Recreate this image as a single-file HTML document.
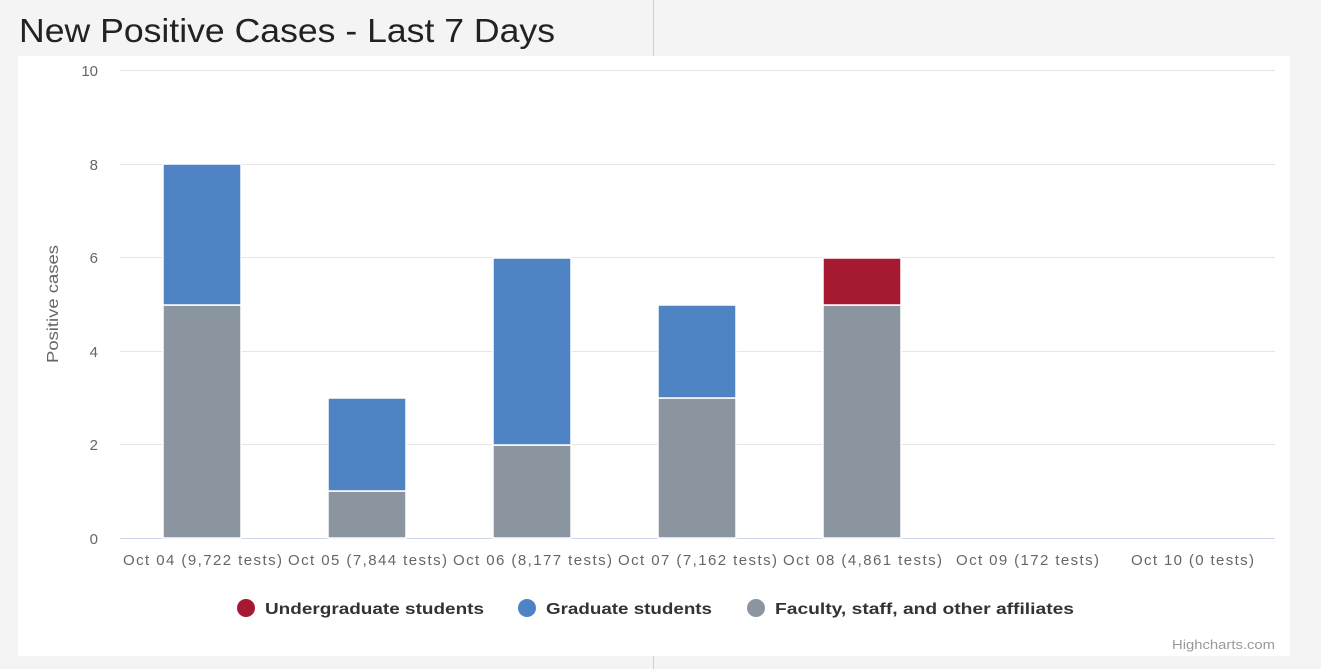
<!DOCTYPE html>
<html><head><meta charset="utf-8"><style>
html,body{margin:0;padding:0;background:#f4f4f4;width:1321px;height:669px;overflow:hidden}
svg{display:block;font-family:"Liberation Sans",sans-serif}
</style></head><body>
<svg width="1321" height="669" viewBox="0 0 1321 669">
<rect width="1321" height="669" fill="#f4f4f4"/>
<line x1="653.5" y1="0" x2="653.5" y2="56" stroke="#d0d0d0"/>
<line x1="653.5" y1="656" x2="653.5" y2="669" stroke="#d0d0d0"/>
<text x="19" y="42" font-size="33" fill="#222" textLength="536" lengthAdjust="spacingAndGlyphs">New Positive Cases - Last 7 Days</text>
<rect x="18" y="56" width="1272" height="600" fill="#fff"/>
<g stroke="#e6e6e6" stroke-width="1">
<line x1="120" y1="70.5" x2="1275" y2="70.5"/>
<line x1="120" y1="164.5" x2="1275" y2="164.5"/>
<line x1="120" y1="257.5" x2="1275" y2="257.5"/>
<line x1="120" y1="351.5" x2="1275" y2="351.5"/>
<line x1="120" y1="444.5" x2="1275" y2="444.5"/>
</g>
<line x1="120" y1="538.5" x2="1275" y2="538.5" stroke="#ccd6eb"/>
<g font-size="15" fill="#666" text-anchor="end">
<text x="98" y="76">10</text><text x="98" y="170">8</text><text x="98" y="263">6</text>
<text x="98" y="357">4</text><text x="98" y="450">2</text><text x="98" y="544">0</text>
</g>
<text transform="translate(58,304) rotate(-90)" font-size="16" fill="#666" text-anchor="middle" textLength="118" lengthAdjust="spacingAndGlyphs">Positive cases</text>
<g stroke="#fff" stroke-width="1.5">
<rect x="163" y="305" width="78" height="233" fill="#8a959f"/>
<rect x="163" y="164" width="78" height="141" fill="#4e84c4"/>
<rect x="328" y="491" width="78" height="47" fill="#8a959f"/>
<rect x="328" y="398" width="78" height="93" fill="#4e84c4"/>
<rect x="493" y="445" width="78" height="93" fill="#8a959f"/>
<rect x="493" y="258" width="78" height="187" fill="#4e84c4"/>
<rect x="658" y="398" width="78" height="140" fill="#8a959f"/>
<rect x="658" y="305" width="78" height="93" fill="#4e84c4"/>
<rect x="823" y="305" width="78" height="233" fill="#8a959f"/>
<rect x="823" y="258" width="78" height="47" fill="#a51931"/>
</g>
<g font-size="15" fill="#666" lengthAdjust="spacingAndGlyphs">
<text x="123" y="565" textLength="159">Oct 04 (9,722 tests)</text>
<text x="288" y="565" textLength="159">Oct 05 (7,844 tests)</text>
<text x="453" y="565" textLength="159">Oct 06 (8,177 tests)</text>
<text x="618" y="565" textLength="159">Oct 07 (7,162 tests)</text>
<text x="783" y="565" textLength="159">Oct 08 (4,861 tests)</text>
<text x="956" y="565" textLength="143">Oct 09 (172 tests)</text>
<text x="1131" y="565" textLength="123">Oct 10 (0 tests)</text>
</g>
<g font-size="16" font-weight="bold" fill="#333">
<circle cx="246" cy="608" r="9" fill="#a51931"/>
<text x="265" y="614" textLength="219" lengthAdjust="spacingAndGlyphs">Undergraduate students</text>
<circle cx="527" cy="608" r="9" fill="#4e84c4"/>
<text x="546" y="614" textLength="166" lengthAdjust="spacingAndGlyphs">Graduate students</text>
<circle cx="756" cy="608" r="9" fill="#8a959f"/>
<text x="775" y="614" textLength="299" lengthAdjust="spacingAndGlyphs">Faculty, staff, and other affiliates</text>
</g>
<text x="1172" y="649" font-size="13" fill="#999" textLength="103" lengthAdjust="spacingAndGlyphs">Highcharts.com</text>
</svg>
</body></html>
